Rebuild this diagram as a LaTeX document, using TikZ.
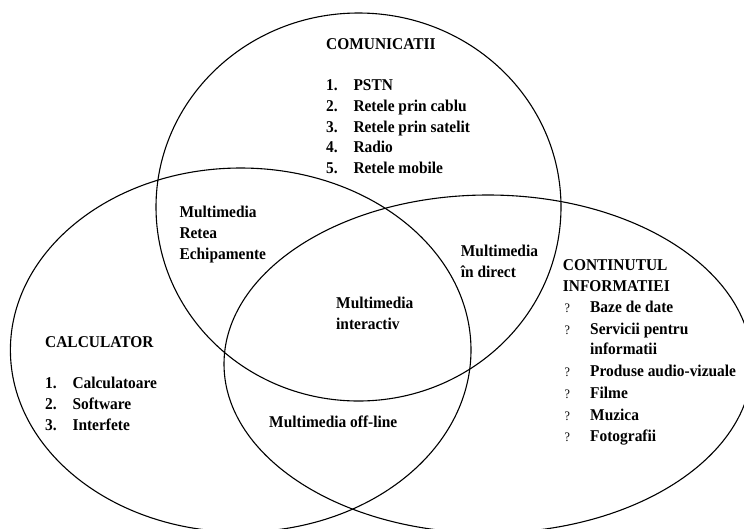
\documentclass[tikz,border=0pt]{standalone}
\usepackage{fontspec}
\setmainfont{Liberation Serif}[FakeStretch=0.935]
\begin{document}
\begin{tikzpicture}[x=1pt,y=-1pt,
  venn/.style={draw=black, line width=1.1pt},
  txt/.style={anchor=base west, inner sep=0pt, font=\fontsize{16.5}{20}\selectfont\bfseries},
  qmark/.style={anchor=base west, inner sep=0pt, font=\fontsize{13}{16}\selectfont}]
\useasboundingbox (0,0) rectangle (744,528);

% the three sets
\draw[venn] (358.5,207) ellipse [x radius=202.5pt, y radius=194pt];
\draw[venn] (240.7,350) ellipse [x radius=230.3pt, y radius=182pt];
\draw[venn] (488,364) ellipse [x radius=264pt, y radius=169pt];

% COMUNICATII
\node[txt] (comTitle) at (326,49.3) {COMUNICATII};
\foreach \n/\t/\y [count=\i] in {1./PSTN/90.7, 2./Retele prin cablu/111.3,
    3./Retele prin satelit/132, 4./Radio/152.7, 5./Retele mobile/173.3} {
  \node[txt] (comN\i) at (326,\y) {\n};
  \node[txt] (comT\i) at (353.3,\y) {\t};
}

% CALCULATOR
\node[txt] (calTitle) at (45,347.3) {CALCULATOR};
\foreach \n/\t/\y [count=\i] in {1./Calculatoare/388.3, 2./Software/409.3, 3./Interfete/430} {
  \node[txt] (calN\i) at (45,\y) {\n};
  \node[txt] (calT\i) at (72.3,\y) {\t};
}

% CONTINUTUL INFORMATIEI
\node[txt] (infTitleA) at (562.7,270.7) {CONTINUTUL};
\node[txt] (infTitleB) at (562.7,291) {INFORMATIEI};
\foreach \t/\y [count=\i] in {Baze de date/312.7, Servicii pentru/334.3,
    Produse audio-vizuale/376.7, Filme/398.3, Muzica/420, Fotografii/441.7} {
  \node[qmark] (infQ\i) at (564.5,\y) {?};
  \node[txt] (infT\i) at (590,\y) {\t};
}
\node[txt] (infT2b) at (590,354.8) {informatii};

% overlaps
\node[txt] (mmNetA) at (179.3,217.3) {Multimedia};
\node[txt] (mmNetB) at (179.3,238.3) {Retea};
\node[txt] (mmNetC) at (179.3,259.3) {Echipamente};
\node[txt] (mmLiveA) at (460.7,256.7) {Multimedia};
\node[txt] (mmLiveB) at (460.7,277.3) {în direct};
\node[txt] (mmIntA) at (336,308.7) {Multimedia};
\node[txt] (mmIntB) at (336,329.3) {interactiv};
\node[txt] (mmOff) at (269,427) {Multimedia off-line};
\end{tikzpicture}
\end{document}
